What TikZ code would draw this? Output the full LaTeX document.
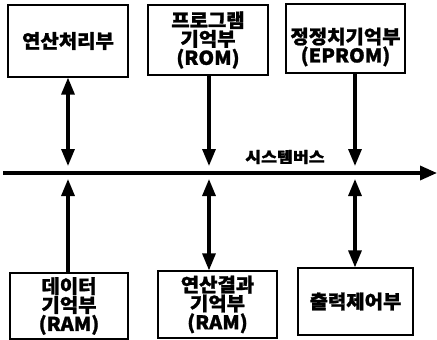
\documentclass[tikz,border=0pt]{standalone}
\usepackage{fontspec}
\newfontfamily\kr[FakeStretch=1.05, FakeBold=1.2]{Noto Sans CJK KR}
\newfontfamily\krbus[FakeStretch=1.15, FakeBold=1.2]{Noto Sans CJK KR}
\usetikzlibrary{arrows.meta}
\begin{document}
\begin{tikzpicture}[x=1pt,y=-1pt,
  boxtext/.style={inner sep=0pt, align=center,
    font=\kr\bfseries\fontsize{19}{14.3}\selectfont},
  box/.style={draw=black, line width=1.2pt, boxtext},
  conn/.style={line width=3.2pt, -{Triangle[length=17pt,width=13pt]}},
  dconn/.style={line width=3.2pt, {Triangle[length=17pt,width=13pt]}-{Triangle[length=17pt,width=13pt]}},
  busline/.style={line width=3.4pt, -{Triangle[length=17pt,width=14pt]}}]
\useasboundingbox (0,0) rectangle (437,340);
% top boxes
\node[box, minimum width=120pt, minimum height=72pt] (b1) at (68,41) {연산처리부};
\node[box, minimum width=120pt, minimum height=70pt] (b2) at (208,40) {프로그램\\기억부\\(ROM)};
\node[box, minimum width=119pt, minimum height=69pt] (b3) at (345.5,38.5) {};
\node[boxtext, anchor=center] (b3t) at (345.5,47) {정정치기억부\\(EPROM)};
% bottom boxes
\node[box, minimum width=118pt, minimum height=66pt] (b4) at (69,306) {데이터\\기억부\\(RAM)};
\node[box, minimum width=119pt, minimum height=67pt] (b5) at (217.5,304.5) {연산결과\\기억부\\(RAM)};
\node[box, minimum width=115pt, minimum height=67pt] (b6) at (355.5,301.5) {출력제어부};
% bus
\coordinate (busL) at (3,173);
\coordinate (busR) at (437,173);
\draw[busline] (busL) -- (busR);
\node[font=\krbus\bfseries\fontsize{15}{15}\selectfont, inner sep=0pt] (lbl) at (285,157) {시스템버스};
% bus contact points
\coordinate (t1) at (68,166);
\coordinate (t2) at (209,166);
\coordinate (t3) at (355,166);
\coordinate (u1) at (68,179);
\coordinate (u2) at (209,179);
\coordinate (u3) at (355,179);
% connectors
\draw[dconn] (b1.south -| t1) -- (t1);
\draw[conn] (b2.south -| t2) -- (t2);
\draw[conn] (b3.south -| t3) -- (t3);
\draw[conn] (b4.north -| u1) -- (u1);
\draw[dconn] (u2) -- (b5.north -| u2);
\draw[dconn] (u3) -- (b6.north -| u3);
\end{tikzpicture}
\end{document}
